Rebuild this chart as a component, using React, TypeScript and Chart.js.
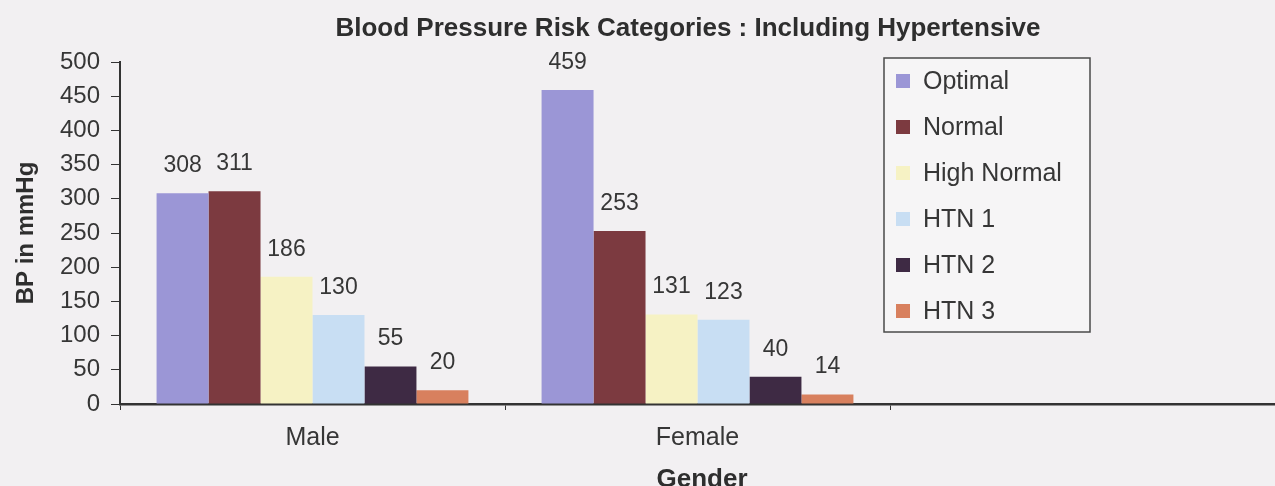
import React, { useEffect, useRef } from "react";
import { Chart, registerables } from "chart.js";

Chart.register(...registerables);

const genders = ["Male", "Female", ""];
const seriesNames = ["Optimal", "Normal", "High Normal", "HTN 1", "HTN 2", "HTN 3"];
const optimal = [308, 459, null];
const normal = [311, 253, null];
const highNormal = [186, 131, null];
const htn1 = [130, 123, null];
const htn2 = [55, 40, null];
const htn3 = [20, 14, null];
const seriesColors = ["#9b96d6", "#7c3a40", "#f6f2c4", "#c8def3", "#3e2a44", "#d8805e"];
const yTicks = [0, 50, 100, 150, 200, 250, 300, 350, 400, 450, 500];

const FONT = "'Liberation Sans', Arial, sans-serif";
const TEXT = "#363636";

// Paper-coloured backdrop behind the whole chart
const backdrop = {
  id: "backdrop",
  beforeDraw(chart: any) {
    const { ctx, width, height } = chart;
    ctx.save();
    ctx.fillStyle = "#f2f0f2";
    ctx.fillRect(0, 0, width, height);
    ctx.restore();
  },
};

// Chart heading and x-axis caption
const captions = {
  id: "captions",
  afterDraw(chart: any) {
    const { ctx } = chart;
    ctx.save();
    ctx.font = `bold 26px ${FONT}`;
    ctx.fillStyle = "#2e2e2e";
    ctx.textAlign = "center";
    ctx.textBaseline = "middle";
    ctx.fillText("Blood Pressure Risk Categories : Including Hypertensive", 688, 29);
    ctx.fillText("Gender", 702, 480);
    ctx.restore();
  },
};

// Value printed above each bar
const valueLabels = {
  id: "valueLabels",
  afterDatasetsDraw(chart: any) {
    const { ctx } = chart;
    ctx.save();
    ctx.font = `23px ${FONT}`;
    ctx.fillStyle = TEXT;
    ctx.textAlign = "center";
    ctx.textBaseline = "alphabetic";
    chart.data.datasets.forEach((ds: any, i: number) => {
      const meta = chart.getDatasetMeta(i);
      meta.data.forEach((bar: any, j: number) => {
        const v = ds.data[j];
        if (v == null) return;
        ctx.fillText(String(v), bar.x, bar.y - 21);
      });
    });
    ctx.restore();
  },
};

// Boxed legend inside the empty third slot
const boxedLegend = {
  id: "boxedLegend",
  afterDraw(chart: any) {
    const { ctx } = chart;
    const left = 884;
    const top = 58;
    const w = 206;
    const h = 274;
    ctx.save();
    ctx.fillStyle = "#f6f5f6";
    ctx.fillRect(left, top, w, h);
    ctx.strokeStyle = "#4a4a4a";
    ctx.lineWidth = 1.5;
    ctx.strokeRect(left, top, w, h);
    ctx.font = `25px ${FONT}`;
    ctx.textAlign = "left";
    ctx.textBaseline = "middle";
    chart.data.datasets.forEach((ds: any, i: number) => {
      const cy = top + 23 + i * 46;
      ctx.fillStyle = ds.backgroundColor;
      ctx.fillRect(left + 12, cy - 7, 14, 14);
      ctx.fillStyle = TEXT;
      ctx.fillText(ds.label, left + 39, cy + 1);
    });
    ctx.restore();
  },
};

export default function App() {
  const canvasRef = useRef<HTMLCanvasElement | null>(null);

  useEffect(() => {
    document.body.style.margin = "0";
    const canvas = canvasRef.current;
    if (!canvas) return;
    const values = [optimal, normal, highNormal, htn1, htn2, htn3];
    const chart = new Chart(canvas, {
      type: "bar",
      data: {
        labels: genders,
        datasets: seriesNames.map((name, i) => ({
          label: name,
          data: values[i],
          backgroundColor: seriesColors[i],
          borderWidth: 0,
          barPercentage: 1,
          categoryPercentage: 0.81,
        })),
      },
      options: {
        animation: false,
        responsive: false,
        maintainAspectRatio: false,
        layout: { padding: { top: 62, left: 0, right: -5, bottom: 0 } },
        plugins: {
          legend: { display: false },
          title: { display: false },
          tooltip: { enabled: false },
        },
        scales: {
          x: {
            offset: true,
            afterFit(scale: any) {
              scale.height = 82;
            },
            grid: {
              display: true,
              offset: true,
              drawOnChartArea: false,
              drawTicks: true,
              tickLength: 6,
              color: "#333",
            },
            border: { display: true, color: "#333", width: 2.5 },
            ticks: {
              color: TEXT,
              font: { family: FONT, size: 25 },
              padding: 13,
              maxRotation: 0,
            },
          },
          y: {
            min: 0,
            max: 500,
            afterBuildTicks(scale: any) {
              scale.ticks = yTicks.map((v) => ({ value: v }));
            },
            afterFit(scale: any) {
              scale.width = 120;
            },
            grid: {
              display: true,
              drawOnChartArea: false,
              drawTicks: true,
              tickLength: 9,
              color: "#333",
            },
            border: { display: true, color: "#333", width: 2 },
            ticks: {
              color: TEXT,
              font: { family: FONT, size: 24 },
              padding: 11,
            },
            title: {
              display: true,
              text: "BP in mmHg",
              color: "#2e2e2e",
              font: { family: FONT, size: 24, weight: "bold" },
              padding: { top: 12, bottom: 0 },
            },
          },
        },
      },
      plugins: [backdrop, valueLabels, boxedLegend, captions],
    });
    return () => chart.destroy();
  }, []);

  return (
    <div style={{ position: "fixed", left: 0, top: 0, width: 1275, height: 486 }}>
      <canvas ref={canvasRef} width={1275} height={486} style={{ display: "block" }} />
    </div>
  );
}
